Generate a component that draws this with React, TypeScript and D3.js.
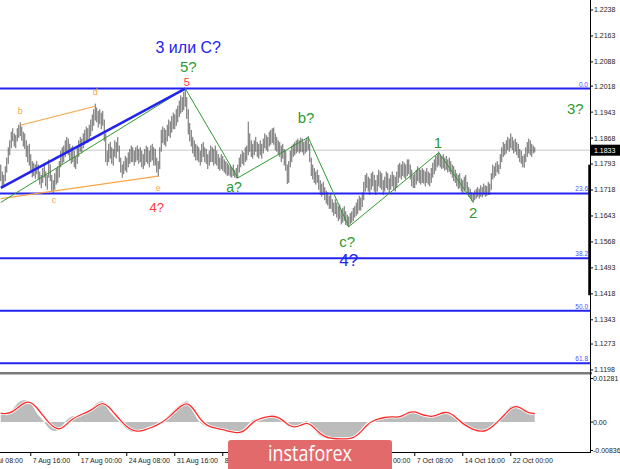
import React from 'react';
import * as d3 from 'd3';

// EUR/USD H4, 357 bars, prices in pips (11790 = 1.1790)
const highs = [
  11790, 11770, 11760, 11785, 11810, 11840, 11860, 11885, 11895, 11880, 11875, 11895, 11905, 11912, 11900, 11885,
  11880, 11860, 11845, 11850, 11820, 11800, 11795, 11790, 11800, 11790, 11770, 11760, 11780, 11795, 11770, 11760,
  11805, 11790, 11760, 11745, 11765, 11780, 11785, 11800, 11830, 11840, 11845, 11860, 11870, 11865, 11850, 11840,
  11845, 11830, 11815, 11840, 11860, 11870, 11865, 11880, 11890, 11900, 11895, 11905, 11920, 11935, 11950, 11966,
  11955, 11945, 11950, 11940, 11945, 11920, 11880, 11830, 11850, 11855, 11840, 11835, 11860, 11855, 11870, 11845,
  11810, 11790, 11800, 11815, 11810, 11825, 11835, 11845, 11840, 11830, 11840, 11845, 11835, 11840, 11830, 11820,
  11835, 11845, 11840, 11830, 11845, 11850, 11840, 11835, 11810, 11800, 11840, 11890, 11900, 11895, 11890, 11905,
  11920, 11915, 11930, 11940, 11935, 11950, 11960, 11975, 11990, 11985, 12000, 12011, 11985, 11950, 11910, 11890,
  11870, 11860, 11850, 11845, 11840, 11830, 11850, 11855, 11840, 11835, 11820, 11830, 11845, 11840, 11835, 11845,
  11830, 11820, 11810, 11820, 11815, 11805, 11800, 11795, 11790, 11785, 11780, 11790, 11775, 11780, 11790, 11810,
  11820, 11830, 11825, 11840, 11845, 11914, 11880, 11860, 11850, 11860, 11870, 11855, 11850, 11860, 11850, 11865,
  11880, 11875, 11870, 11885, 11890, 11895, 11897, 11880, 11870, 11860, 11855, 11845, 11850, 11835, 11830, 11790,
  11800, 11830, 11845, 11850, 11855, 11860, 11865, 11860, 11868, 11865, 11855, 11860, 11868, 11872, 11850, 11810,
  11790, 11780, 11770, 11775, 11760, 11745, 11735, 11740, 11725, 11715, 11710, 11700, 11705, 11690, 11680, 11690,
  11680, 11670, 11675, 11660, 11665, 11670, 11655, 11645, 11640, 11650, 11655, 11665, 11670, 11680, 11690, 11700,
  11695, 11710, 11740, 11760, 11765, 11755, 11750, 11765, 11770, 11760, 11745, 11760, 11775, 11770, 11765, 11745,
  11755, 11770, 11765, 11750, 11760, 11770, 11760, 11755, 11770, 11790, 11795, 11790, 11800, 11795, 11790, 11805,
  11805, 11790, 11775, 11760, 11765, 11775, 11785, 11780, 11775, 11780, 11775, 11770, 11780, 11770, 11765, 11780,
  11795, 11805, 11815, 11820, 11828, 11820, 11815, 11820, 11810, 11815, 11805, 11810, 11800, 11790, 11785, 11775,
  11765, 11760, 11765, 11750, 11745, 11755, 11760, 11740, 11725, 11720, 11710, 11705, 11715, 11720, 11725, 11720,
  11730, 11725, 11735, 11730, 11728, 11740, 11735, 11765, 11790, 11785, 11795, 11800, 11790, 11820, 11840, 11855,
  11850, 11860, 11870, 11865, 11880, 11870, 11860, 11865, 11855, 11850, 11835, 11830, 11815, 11820, 11840, 11855,
  11865, 11860, 11850, 11845, 11840,
];
const lows = [
  11745, 11730, 11726, 11745, 11770, 11795, 11820, 11840, 11860, 11845, 11840, 11860, 11870, 11875, 11862, 11845,
  11838, 11815, 11800, 11790, 11775, 11756, 11760, 11752, 11765, 11750, 11735, 11725, 11740, 11755, 11730, 11720,
  11755, 11745, 11715, 11709, 11720, 11735, 11740, 11755, 11785, 11795, 11800, 11815, 11825, 11820, 11805, 11795,
  11800, 11785, 11780, 11795, 11815, 11830, 11825, 11840, 11850, 11860, 11855, 11865, 11875, 11890, 11905, 11920,
  11915, 11900, 11910, 11895, 11905, 11860, 11800, 11790, 11800, 11810, 11795, 11790, 11815, 11810, 11830, 11800,
  11770, 11755, 11765, 11775, 11770, 11785, 11795, 11800, 11800, 11790, 11800, 11805, 11795, 11800, 11785, 11780,
  11790, 11800, 11795, 11785, 11800, 11805, 11790, 11790, 11770, 11758, 11780, 11830, 11855, 11850, 11845, 11860,
  11875, 11870, 11885, 11895, 11895, 11905, 11915, 11930, 11940, 11945, 11950, 11960, 11925, 11880, 11860, 11845,
  11825, 11815, 11805, 11805, 11800, 11790, 11800, 11815, 11800, 11795, 11780, 11790, 11800, 11800, 11790, 11795,
  11790, 11780, 11775, 11780, 11775, 11770, 11765, 11760, 11762, 11758, 11755, 11760, 11755, 11753, 11753, 11770,
  11785, 11795, 11790, 11800, 11805, 11820, 11830, 11815, 11810, 11820, 11830, 11815, 11810, 11820, 11810, 11825,
  11840, 11835, 11830, 11845, 11850, 11855, 11850, 11835, 11830, 11820, 11815, 11800, 11810, 11790, 11775, 11737,
  11740, 11785, 11800, 11815, 11820, 11825, 11830, 11825, 11830, 11828, 11820, 11825, 11830, 11835, 11800, 11760,
  11750, 11740, 11735, 11740, 11720, 11705, 11700, 11705, 11690, 11680, 11675, 11665, 11665, 11655, 11645, 11650,
  11640, 11630, 11635, 11620, 11625, 11630, 11618, 11615, 11612, 11620, 11625, 11630, 11640, 11645, 11650, 11660,
  11660, 11670, 11690, 11715, 11725, 11715, 11705, 11720, 11730, 11715, 11705, 11715, 11730, 11725, 11720, 11705,
  11715, 11725, 11720, 11710, 11720, 11730, 11718, 11715, 11725, 11740, 11755, 11750, 11760, 11755, 11750, 11760,
  11765, 11750, 11730, 11725, 11725, 11735, 11745, 11740, 11735, 11740, 11738, 11730, 11740, 11735, 11730, 11740,
  11755, 11765, 11775, 11785, 11790, 11785, 11780, 11782, 11775, 11778, 11770, 11772, 11765, 11755, 11745, 11740,
  11730, 11722, 11725, 11715, 11710, 11715, 11720, 11705, 11700, 11695, 11688, 11683, 11690, 11695, 11700, 11695,
  11700, 11698, 11705, 11700, 11702, 11705, 11705, 11720, 11750, 11755, 11760, 11770, 11765, 11780, 11800, 11815,
  11820, 11825, 11835, 11830, 11840, 11835, 11825, 11830, 11820, 11812, 11800, 11795, 11785, 11784, 11800, 11815,
  11825, 11820, 11815, 11825, 11828,
];

// OsMA-style oscillator, one value every 4 bars (units of 1e-5)
const oscStep = 4;
const oscHist = [
  290, 203, 377, 580, 638, 551, 261, 58, -174, -261, -174, 58, 174, 203, 290, 377, 551, 609, 348, 145,
  -29, -203, -290, -261, -203, -145, -58, 29, 203, 377, 522, 609, 319, 29, -116, -174, -203, -232, -290, -319,
  -319, -116, 58, 116, 145, 203, 145, 29, -145, -174, -58, 29, -174, -377, -464, -493, -493, -493, -493, -435,
  -232, -29, 58, 116, 145, 174, 116, 203, 319, 319, 203, 174, 145, 261, 319, 232, 87, -87, -174, -261,
  -290, -232, -87, 87, 261, 464, 493, 348, 232, 261,
];
const oscSignal = [
  260, 240, 300, 450, 580, 600, 430, 200, -20, -180, -220, -60, 100, 190, 260, 340, 480, 580, 460, 240,
  40, -140, -250, -280, -230, -170, -90, 0, 140, 310, 470, 580, 430, 140, -60, -150, -190, -220, -270, -305,
  -320, -200, 0, 90, 135, 180, 160, 60, -100, -165, -100, 0, -120, -310, -430, -480, -493, -493, -490, -450,
  -300, -80, 30, 100, 135, 165, 135, 180, 290, 315, 230, 185, 155, 230, 300, 260, 120, -50, -150, -240,
  -280, -250, -130, 40, 220, 420, 480, 380, 260, 250,
];

const priceTicks = ['1.2238', '1.2163', '1.2088', '1.2018', '1.1943', '1.1868', '1.1793', '1.1718', '1.1643',
  '1.1568', '1.1493', '1.1418', '1.1343', '1.1273', '1.1198'];
const oscTicks = ['0.01281', '0.00', '-0.00836'];
const timeLabels = ['31 Jul 08:00', '7 Aug 16:00', '17 Aug 00:00', '24 Aug 08:00', '31 Aug 16:00', '8 Sep 00:00',
  '15 Sep 08:00', '22 Sep 16:00', '30 Sep 00:00', '7 Oct 08:00', '14 Oct 16:00', '22 Oct 00:00'];
const timeLabelFirstBar = -12;
const timeLabelEvery = 32;

const fibHigh = 1.2011;
const fibLow = 1.0727;
const fibRatios = [0, 23.6, 38.2, 50, 61.8];
const lastPrice = 1.1833;

// wave markup, [bar, price]
const blueTrend: [number, number][] = [[0, 1.1724], [123, 1.2011]];
const greenChannel: [number, number][] = [[0, 1.1682], [123, 1.2011]];
const greenZigzag: [number, number][] = [[123, 1.2011], [158, 1.1753], [205, 1.1870], [232, 1.1612], [292, 1.1826], [315, 1.1683]];
const orangeUpper: [number, number][] = [[13, 1.1905], [63, 1.1960]];
const orangeLower: [number, number][] = [[0, 1.1693], [105, 1.1758]];

const BLUE = '#2323f0';
const GREEN = '#2f9a2f';
const RED = '#ff3a3a';
const ORANGE = '#f7a648';

const waveLabels = [
  { t: '3 или С?', bar: 125, p: 1.2114, c: BLUE, s: 16 },
  { t: '5?', bar: 125, p: 1.2060, c: GREEN, s: 15 },
  { t: '5', bar: 124, p: 1.2019, c: RED, s: 11 },
  { t: '3?', bar: 383, p: 1.1938, c: GREEN, s: 15 },
  { t: 'b?', bar: 203.5, p: 1.1912, c: GREEN, s: 15 },
  { t: 'a?', bar: 155.5, p: 1.1712, c: GREEN, s: 14 },
  { t: 'c?', bar: 231, p: 1.1553, c: GREEN, s: 15 },
  { t: '4?', bar: 232, p: 1.1498, c: BLUE, s: 17 },
  { t: '4?', bar: 104, p: 1.1654, c: RED, s: 13 },
  { t: 'b', bar: 13, p: 1.1938, c: ORANGE, s: 9 },
  { t: 'c', bar: 35.5, p: 1.1680, c: ORANGE, s: 9 },
  { t: 'd', bar: 63, p: 1.1992, c: ORANGE, s: 9 },
  { t: 'e', bar: 105, p: 1.1715, c: ORANGE, s: 9 },
  { t: '1', bar: 291.5, p: 1.1839, c: GREEN, s: 15 },
  { t: '2', bar: 315, p: 1.1637, c: GREEN, s: 15 },
];

const axisX = 590;
const tickFont = 'Liberation Sans, Arial, sans-serif';

export default function App() {
  const x = d3.scaleLinear().domain([0, highs.length - 1]).range([0.75, 0.75 + (highs.length - 1) * 1.5]);
  const y = d3.scaleLinear().domain([1.1198, 1.2238]).range([370, 10]);
  const yo = d3.scaleLinear().domain([-0.00836, 0.01281]).range([450.5, 378.5]);

  const seg = d3.line<[number, number]>().x(d => x(d[0])).y(d => y(d[1]));
  const oscX = (i: number) => x(i * oscStep);
  const histArea = d3.area<number>().x((_, i) => oscX(i)).y0(yo(0)).y1(d => yo(d / 1e5)).curve(d3.curveMonotoneX);
  const sigLine = d3.line<number>().x((_, i) => oscX(i)).y(d => yo(d / 1e5)).curve(d3.curveBasis);

  const fibLevels = fibRatios.map(r => ({ r, p: fibHigh - (fibHigh - fibLow) * r / 100 }));

  return (
    <svg width={620} height={469} style={{ position: 'fixed', left: 0, top: 0, background: '#fff' }}
      fontFamily={tickFont}>
      <defs>
        <clipPath id="main"><rect x={0} y={0} width={axisX} height={372} /></clipPath>
        <clipPath id="osc"><rect x={0} y={375} width={axisX} height={77} /></clipPath>
      </defs>
      <rect width={620} height={469} fill="#fff" />

      {/* main panel */}
      <g clipPath="url(#main)">
        <line x1={0} x2={axisX} y1={y(lastPrice)} y2={y(lastPrice)} stroke="#c8c8c8" strokeWidth={1} />
        {highs.map((h, i) => (
          <line key={i} x1={x(i)} x2={x(i)} y1={y(h / 1e4) - 0.5} y2={y(lows[i] / 1e4) + 0.5}
            stroke="#555" strokeWidth={0.9} />
        ))}
        {fibLevels.map(f => (
          <g key={f.r}>
            <line x1={0} x2={axisX} y1={y(f.p)} y2={y(f.p)} stroke={BLUE} strokeWidth={2} />
            <text x={axisX - 2} y={y(f.p) - 2} textAnchor="end" fontSize={6.5} fill="#5050ff">
              {f.r.toFixed(1)}
            </text>
          </g>
        ))}
        <path d={seg(orangeUpper)!} stroke={ORANGE} strokeWidth={1.2} fill="none" />
        <path d={seg(orangeLower)!} stroke={ORANGE} strokeWidth={1.2} fill="none" />
        <path d={seg(greenChannel)!} stroke={GREEN} strokeWidth={1} fill="none" />
        <path d={seg(blueTrend)!} stroke={BLUE} strokeWidth={2.5} fill="none" />
        <path d={seg(greenZigzag)!} stroke={GREEN} strokeWidth={1} fill="none" />
        {waveLabels.map((l, i) => (
          <text key={i} x={x(l.bar)} y={y(l.p)} textAnchor="middle" fontSize={l.s} fill={l.c}
            fontFamily="Liberation Sans, Arial, sans-serif">{l.t}</text>
        ))}
      </g>

      {/* separator between panels */}
      <rect x={0} y={372} width={axisX + 2} height={2.5} fill="#7a7a7a" />

      {/* oscillator */}
      <g clipPath="url(#osc)">
        <path d={histArea(oscHist)!} fill="#bcbcbc" />
        <path d={sigLine(oscSignal)!} stroke="#fff" strokeWidth={3} fill="none" />
        <path d={sigLine(oscSignal)!} stroke="#ff2a2a" strokeWidth={1.3} fill="none" />
      </g>

      {/* axes */}
      <line x1={axisX + 0.5} x2={axisX + 0.5} y1={0} y2={453} stroke="#000" strokeWidth={1} />
      <line x1={0} x2={axisX + 1} y1={452.5} y2={452.5} stroke="#000" strokeWidth={1} />
      <line x1={axisX - 0.5} x2={axisX - 0.5} y1={y(1.1791)} y2={y(1.1414)} stroke="#000" strokeWidth={2.5} />

      {priceTicks.map(t => (
        <g key={t}>
          <line x1={axisX} x2={axisX + 3} y1={y(+t)} y2={y(+t)} stroke="#000" />
          <text x={axisX + 4} y={y(+t)} dy="0.35em" fontSize={7} fill="#222">{t}</text>
        </g>
      ))}
      <rect x={axisX + 1} y={y(lastPrice) - 5.5} width={29} height={11} fill="#000" />
      <text x={axisX + 4} y={y(lastPrice)} dy="0.35em" fontSize={7} fill="#fff">{lastPrice.toFixed(4)}</text>

      {oscTicks.map(t => (
        <g key={t}>
          <line x1={axisX} x2={axisX + 3} y1={yo(+t)} y2={yo(+t)} stroke="#000" />
          <text x={axisX + 3} y={yo(+t)} dy="0.35em" fontSize={7} fill="#222">{t}</text>
        </g>
      ))}

      {timeLabels.map((t, k) => {
        const tx = x(timeLabelFirstBar + k * timeLabelEvery);
        return (
          <g key={t}>
            <line x1={tx} x2={tx} y1={452} y2={456} stroke="#000" />
            <text x={tx + 2} y={463} fontSize={7} fill="#222">{t}</text>
          </g>
        );
      })}

      {/* watermark */}
      <rect x={228} y={440} width={164} height={34} rx={3} fill="#e36a6a" />
      <text x={310} y={461} textAnchor="middle" fontSize={21} fill="#fff" textLength={84}
        lengthAdjust="spacingAndGlyphs" fontFamily="Open Sans, Liberation Sans, sans-serif">instaforex</text>
    </svg>
  );
}
